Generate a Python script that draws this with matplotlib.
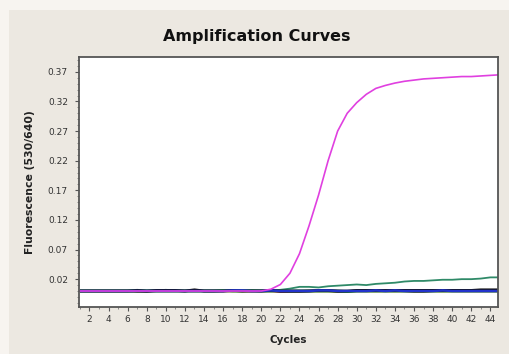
import matplotlib
matplotlib.use("Agg")
import matplotlib.pyplot as plt
from matplotlib.patches import Rectangle
from matplotlib.ticker import MultipleLocator

cycles = list(range(1, 46))

magenta = [0.000, 0.000, 0.000, 0.000, 0.000, 0.000, 0.000, 0.000, 0.000, 0.000,
           0.000, 0.000, 0.000, 0.000, 0.000, 0.000, 0.000, 0.000, 0.000, 0.000,
           0.003, 0.011, 0.030, 0.063, 0.110, 0.162, 0.220, 0.270, 0.300, 0.318,
           0.332, 0.342, 0.347, 0.351, 0.354, 0.356, 0.358, 0.359, 0.360, 0.361,
           0.362, 0.362, 0.363, 0.364, 0.365]
teal = [0.001, 0.001, 0.001, 0.001, 0.001, 0.001, 0.002, 0.001, 0.001, 0.002,
        0.001, 0.001, 0.001, 0.001, 0.001, 0.001, 0.001, 0.001, 0.001, 0.001,
        0.001, 0.002, 0.004, 0.007, 0.007, 0.006, 0.008, 0.009, 0.010, 0.011,
        0.010, 0.012, 0.013, 0.014, 0.016, 0.017, 0.017, 0.018, 0.019, 0.019,
        0.020, 0.020, 0.021, 0.023, 0.023]
black = [0.000, 0.000, 0.000, 0.000, 0.000, 0.000, 0.001, 0.000, 0.001, 0.001,
         0.001, 0.000, 0.002, 0.000, 0.000, 0.000, 0.001, 0.000, 0.000, 0.000,
         0.001, 0.000, 0.000, 0.000, 0.000, 0.001, 0.001, 0.000, 0.000, 0.001,
         0.001, 0.001, 0.001, 0.001, 0.001, 0.001, 0.001, 0.001, 0.001, 0.001,
         0.001, 0.001, 0.002, 0.002, 0.002]
blue = [0.000, 0.000, 0.000, 0.000, 0.000, 0.000, 0.000, 0.000, 0.000, 0.000,
        0.000, 0.000, 0.000, 0.000, 0.000, 0.000, 0.001, 0.001, 0.000, 0.000,
        0.001, 0.000, 0.000, 0.000, 0.000, 0.001, 0.001, 0.000, 0.000, 0.000,
        0.000, 0.001, 0.000, 0.001, 0.000, 0.000, 0.000, 0.000, 0.001, 0.000,
        0.000, 0.000, 0.000, 0.000, 0.000]
green = [0.000, 0.000, 0.000, 0.000, 0.000, 0.000, 0.000, 0.000, 0.000, 0.000,
         0.000, 0.000, 0.000, 0.000, 0.000, 0.001, 0.000, 0.000, 0.001, 0.000,
         0.000, 0.001, 0.000, 0.000, 0.000, 0.000, 0.000, 0.000, -0.001, 0.000,
         0.000, 0.000, 0.000, 0.000, 0.000, 0.000, 0.000, 0.000, 0.000, 0.000,
         0.000, 0.000, 0.000, 0.000, 0.000]
brown = [0.000, 0.000, 0.000, 0.000, 0.000, 0.000, -0.001, -0.001, 0.000, 0.000,
         0.000, 0.000, 0.000, 0.000, 0.000, 0.000, 0.000, 0.000, 0.000, 0.000,
         0.000, -0.001, -0.001, -0.001, 0.000, 0.000, 0.000, -0.001, -0.001, 0.000,
         0.000, 0.000, 0.000, 0.000, 0.000, -0.001, -0.001, 0.000, 0.000, 0.000,
         0.000, 0.000, 0.000, 0.000, 0.000]

yticks = [0.02, 0.07, 0.12, 0.17, 0.22, 0.27, 0.32, 0.37]
xticks = list(range(2, 46, 2))

fig = plt.figure(figsize=(5.09, 3.54), dpi=100)
fig.patch.set_facecolor("#f7f4f0")
fig.patches.append(Rectangle((9 / 509, 0), 1, 1 - 10 / 354, transform=fig.transFigure,
                             facecolor="#ece8e1", edgecolor="none", zorder=-1))

ax = fig.add_axes([79 / 509, 1 - 307 / 354, (498 - 79) / 509, (307 - 57) / 354])
ax.set_zorder(2)
ax.set_facecolor("white")

series = [("#2f8a68", teal, 1.3), ("#6b3a2a", brown, 2.0), ("#2a9a2a", green, 2.0),
          ("#111111", black, 2.0), ("#2233cc", blue, 1.8)]
for color, vals, lw in series:
    ax.plot(cycles, vals, color=color, lw=lw, solid_capstyle="butt")
ax.plot(cycles, magenta, color="#e040e0", lw=1.2)

ax.set_xlim(0.9, 44.8)
ax.set_ylim(-0.027, 0.395)
ax.set_xticks(xticks)
ax.set_yticks(yticks)
ax.set_yticklabels([f"{v:.2f}" for v in yticks])
ax.xaxis.set_minor_locator(MultipleLocator(1))
ax.yaxis.set_minor_locator(MultipleLocator(0.01))
ax.tick_params(which="major", direction="out", length=3, width=0.8, color="#555555",
               labelsize=6.5, labelcolor="#333333")
ax.tick_params(axis="y", which="major", pad=5)
ax.tick_params(axis="x", which="major", pad=3)
ax.tick_params(which="minor", direction="out", length=1.5, width=0.6, color="#777777")
for s in ax.spines.values():
    s.set_color("#555555")
    s.set_linewidth(1.3)

fig.text(257 / 509, 1 - 37 / 354, "Amplification Curves", ha="center", va="center",
         fontsize=11.5, fontweight="bold", color="#111111")
ax.set_xlabel("Cycles", fontsize=7.5, fontweight="bold", color="#222222", labelpad=8)
ax.set_ylabel("Fluorescence (530/640)", fontsize=7.8, fontweight="bold", color="#222222", labelpad=9)

fig.savefig("out.png", dpi=100, facecolor=fig.get_facecolor())
